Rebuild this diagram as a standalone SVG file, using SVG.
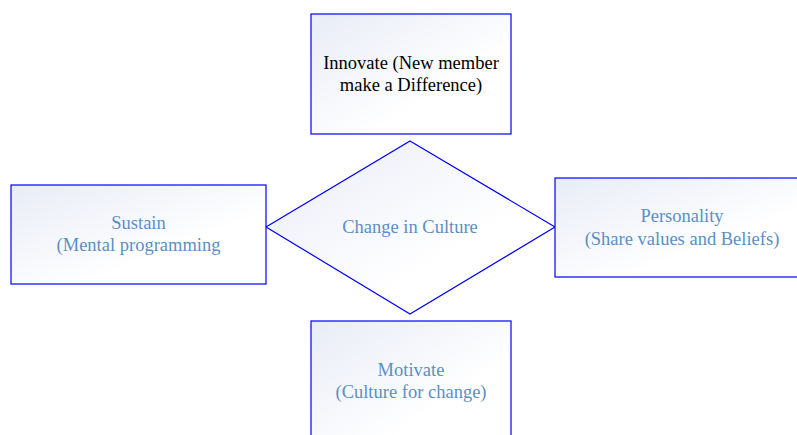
<svg xmlns="http://www.w3.org/2000/svg" width="797" height="435" viewBox="0 0 797 435">
  <defs>
    <linearGradient id="fillGrad" x1="0" y1="0" x2="1" y2="1">
      <stop offset="0" stop-color="#e8ecf6"/>
      <stop offset="0.65" stop-color="#ffffff"/>
    </linearGradient>
  </defs>
  <style>
    .shape { fill: url(#fillGrad); stroke: #0000ff; stroke-width: 1.2; }
    .label { font-family: "Liberation Serif", "Times New Roman", serif; font-size: 18.5px; text-anchor: middle; fill: #5b8fc5; }
    .dark { fill: #000000; }
  </style>
  <rect width="797" height="435" fill="#ffffff"/>

  <g id="innovate">
    <rect class="shape" x="311" y="14" width="200" height="120"/>
    <text class="label dark" x="411" y="69">Innovate (New member</text>
    <text class="label dark" x="411" y="91">make a Difference)</text>
  </g>

  <g id="change-in-culture">
    <polygon class="shape" points="410,141 555,227 410,314 266,227"/>
    <text class="label" x="410" y="233">Change in Culture</text>
  </g>

  <g id="sustain">
    <rect class="shape" x="11" y="185" width="255" height="99"/>
    <text class="label" x="138.5" y="229">Sustain</text>
    <text class="label" x="138.5" y="251">(Mental programming</text>
  </g>

  <g id="personality">
    <rect class="shape" x="555" y="178" width="254" height="99"/>
    <text class="label" x="682" y="222">Personality</text>
    <text class="label" x="682" y="245">(Share values and Beliefs)</text>
  </g>

  <g id="motivate">
    <rect class="shape" x="311" y="321" width="200" height="130"/>
    <text class="label" x="411" y="376">Motivate</text>
    <text class="label" x="411" y="398">(Culture for change)</text>
  </g>

  <g id="connectors"/>
</svg>
